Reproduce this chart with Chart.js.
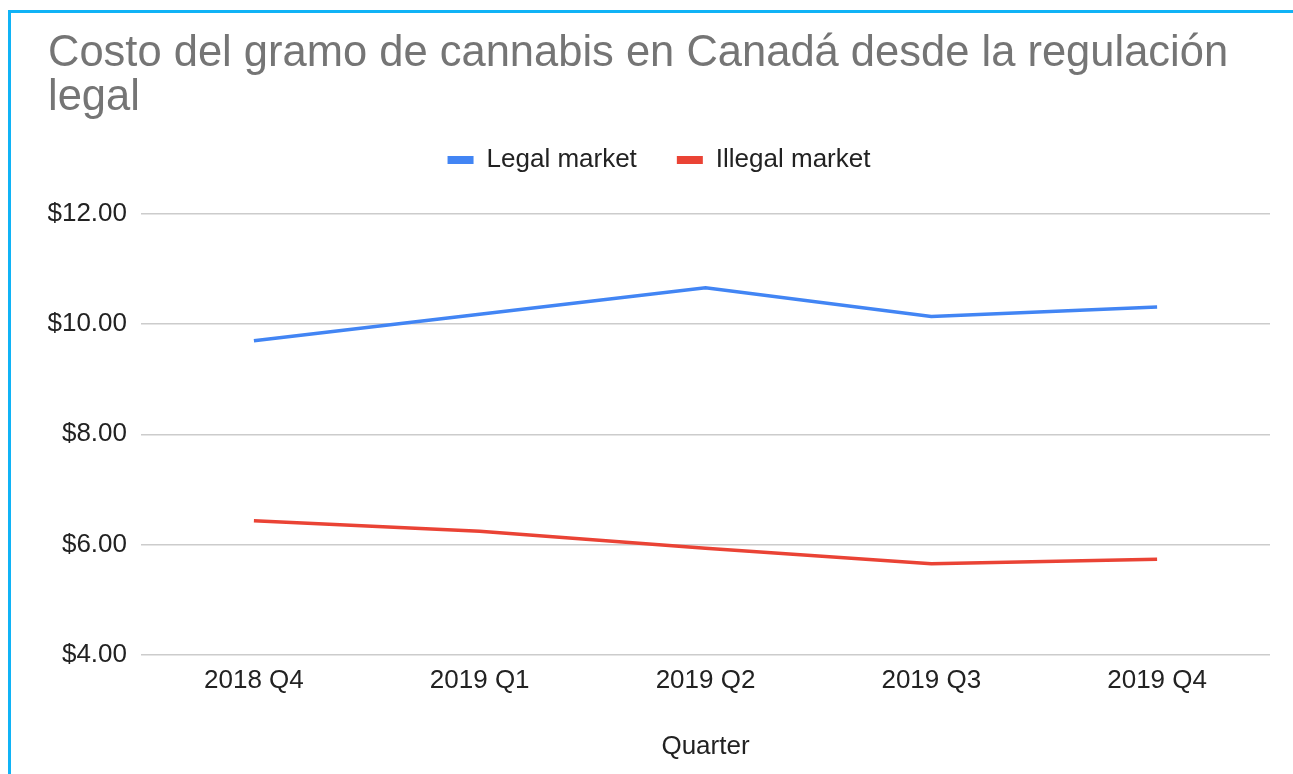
<!DOCTYPE html>
<html>
<head>
<meta charset="utf-8">
<script src="https://cdn.jsdelivr.net/npm/chart.js@4"></script>
<style>
  html, body { margin: 0; padding: 0; background: #fff; overflow: hidden; }
  .frame { position: absolute; left: 8px; top: 10px; width: 1400px; height: 900px;
           border-left: 3px solid #10b3f6; border-top: 3px solid #10b3f6; }
  .wrap { position: absolute; left: 0; top: 0; width: 1293px; height: 774px; }
</style>
</head>
<body>
<div class="frame"></div>
<div class="wrap"><canvas id="myChart"></canvas></div>
<script>
const quarters = ['2018 Q4', '2019 Q1', '2019 Q2', '2019 Q3', '2019 Q4']
const legalMarket = [9.70, 10.18, 10.66, 10.14, 10.31]
const illegalMarket = [6.43, 6.24, 5.93, 5.65, 5.73]
const yTicks = [4, 6, 8, 10, 12]

const FONT = '"Liberation Sans", Arial, Helvetica, sans-serif'

// push the plot area down below the legend
const legendGap = {
  id: 'legendGap',
  beforeInit(chart) {
    const fit = chart.legend.fit
    chart.legend.fit = function () {
      fit.call(this)
      this.height += 31
    }
  }
}

function chartIt() {
  const ctx = document.getElementById('myChart')
  new Chart(ctx, {
    type: 'line',
    data: {
      labels: quarters,
      datasets: [{
        label: 'Legal market',
        data: legalMarket,
        borderColor: '#4285f4',
        backgroundColor: '#4285f4',
        borderWidth: 3.5,
        pointRadius: 0,
        tension: 0
      }, {
        label: 'Illegal market',
        data: illegalMarket,
        borderColor: '#ea4335',
        backgroundColor: '#ea4335',
        borderWidth: 3.5,
        pointRadius: 0,
        tension: 0
      }]
    },
    options: {
      responsive: true,
      maintainAspectRatio: false,
      animation: false,
      layout: { padding: { left: 48, right: 23, top: 10, bottom: 10 } },
      plugins: {
        title: {
          display: true,
          text: ['Costo del gramo de cannabis en Canadá desde la regulación', 'legal'],
          align: 'start',
          color: '#757575',
          font: { family: FONT, size: 43.5, weight: 'normal', lineHeight: 1.0 },
          padding: { top: 22.5, bottom: -12.5 }
        },
        legend: {
          position: 'top',
          labels: {
            boxWidth: 26,
            boxHeight: 8,
            padding: 40,
            color: '#222',
            font: { family: FONT, size: 26 },
            generateLabels: chart => Chart.defaults.plugins.legend.labels.generateLabels(chart)
              .map(l => ({ ...l, lineWidth: 0 }))
          }
        },
        tooltip: { enabled: false }
      },
      scales: {
        x: {
          offset: true,
          grid: { display: false, drawTicks: false },
          border: { display: false },
          ticks: { color: '#222', padding: 11, font: { family: FONT, size: 26 } },
          title: {
            display: true,
            text: 'Quarter',
            color: '#222',
            font: { family: FONT, size: 26 },
            padding: { top: 23, bottom: 2 }
          }
        },
        y: {
          min: 4,
          max: 12,
          afterBuildTicks: axis => { axis.ticks = yTicks.map(v => ({ value: v })) },
          afterFit: axis => { axis.width = 93 },
          grid: { color: '#cccccc', lineWidth: 1.5, drawTicks: false },
          border: { display: false },
          ticks: {
            color: '#222',
            padding: 14,
            font: { family: FONT, size: 26 },
            callback: v => '$' + Number(v).toFixed(2)
          }
        }
      }
    },
    plugins: [legendGap]
  })
}

chartIt()
</script>
</body>
</html>
